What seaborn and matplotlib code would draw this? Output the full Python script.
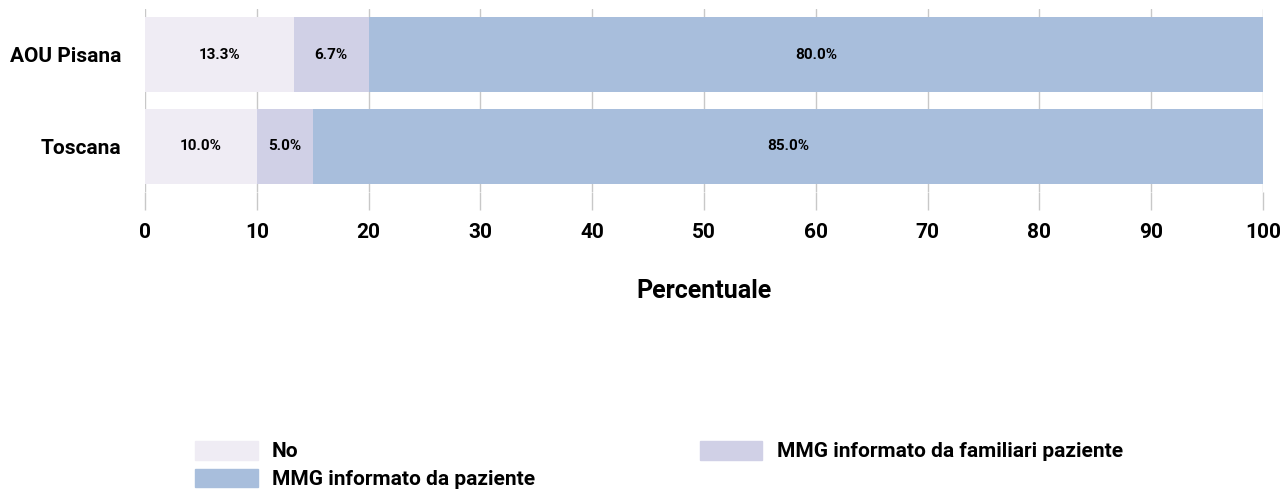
import numpy as np
import pandas as pd
import matplotlib
matplotlib.use("Agg")
import matplotlib.pyplot as plt
import matplotlib.patches as mpatches
import seaborn as sns

# dati
categorie = ["AOU Pisana", "Toscana"]
serie = ["No", "MMG informato da familiari paziente", "MMG informato da paziente"]
no = [13.3, 10.0]
familiari = [6.7, 5.0]
paziente = [80.0, 85.0]
colori = ["#efecf4", "#d0d0e6", "#a8bedc"]

sns.set_theme(style="white")
plt.rcParams['font.family'] = ['Liberation Sans Narrow', 'Roboto', 'DejaVu Sans']
plt.rcParams['font.weight'] = 'bold'
plt.rcParams['text.color'] = 'black'
plt.rcParams['xtick.color'] = 'black'
plt.rcParams['ytick.color'] = 'black'
plt.rcParams['axes.labelcolor'] = 'black'

df = pd.DataFrame({"Categoria": categorie, serie[0]: no,
                   serie[1]: familiari, serie[2]: paziente})
cum = df[serie].cumsum(axis=1)

fig = plt.figure(figsize=(12.8, 4.94), dpi=100)
ax = fig.add_axes([145 / 1280, 1 - 192 / 494, 1118 / 1280, 183 / 494])

# barre sovrapposte (dalla cumulata piu' lunga alla piu' corta)
for s, c in reversed(list(zip(serie, colori))):
    sns.barplot(data=cum.assign(Categoria=df["Categoria"]), x=s, y="Categoria",
                color=c, orient="h", width=0.82, saturation=1, ax=ax, zorder=2,
                linewidth=0, edgecolor="none")

# etichette percentuali
for i in range(len(categorie)):
    sinistra = 0
    for s in serie:
        v = df.loc[i, s]
        ax.text(sinistra + v / 2, i, f"{v:.1f}%", ha="center", va="center",
                fontsize=11, fontweight="bold", color="black", zorder=3)
        sinistra += v

ax.set_xlim(0, 100)
ax.set_ylim(1.5, -0.5)
ax.set_xticks(np.arange(0, 101, 10))
ax.grid(axis="x", color="#c8c8c8", linewidth=1, zorder=0)
ax.set_axisbelow(True)
for sp in ax.spines.values():
    sp.set_visible(False)
ax.tick_params(axis="x", length=13, width=1, color="#c8c8c8", labelcolor="black",
               pad=9, labelsize=15, bottom=True)
ax.tick_params(axis="y", length=0, pad=17, labelsize=15, labelcolor="black")
for lab in ax.get_xticklabels() + ax.get_yticklabels():
    lab.set_fontweight("bold")
ax.set_ylabel("")
ax.set_xlabel("Percentuale", fontsize=18, fontweight="bold", labelpad=27)

handles = [mpatches.Patch(color=colori[0], label=serie[0]),
           mpatches.Patch(color=colori[2], label=serie[2]),
           mpatches.Patch(color=colori[1], label=serie[1])]
fig.legend(handles=handles, loc="upper left", bbox_to_anchor=(195 / 1280, 1 - 441 / 494),
           ncol=2, frameon=False, handlelength=3.0, handleheight=1.0,
           handletextpad=0.7, labelspacing=0.35, columnspacing=7.9, borderpad=0,
           borderaxespad=0, prop={"weight": "bold", "size": 15})

fig.savefig("out.png", dpi=100)
